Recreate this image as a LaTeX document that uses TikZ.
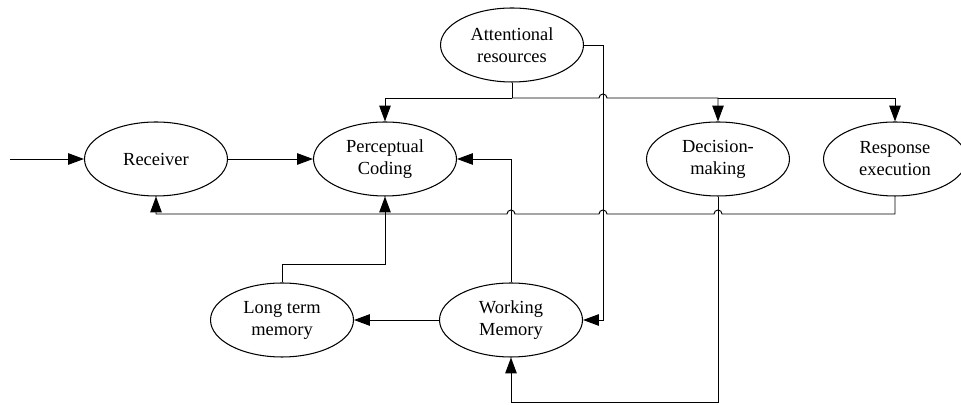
\documentclass[tikz,border=0pt]{standalone}
\usepackage{fontspec}
\setmainfont{Liberation Serif}
\usetikzlibrary{arrows.meta,shapes.geometric}
\tikzset{
  stage/.style={draw, ellipse, line width=0.6pt, minimum width=2.86cm, minimum height=1.48cm, inner sep=0pt, align=center, font=\fontsize{10.5}{12.5}\selectfont},
  arr/.style={line width=0.55pt, -{Triangle[length=9pt, width=6.5pt]}},
  wire/.style={line width=0.55pt}
}
\begin{document}
\begin{tikzpicture}[x=0.02cm, y=0.02cm]
		\useasboundingbox (0,0) rectangle (961,405);
		
		% Stages
		\node[stage] (att) at (512,360) {Attentional\\resources};
		\node[stage] (rec) at (156,246) {Receiver};
		\node[stage] (pc) at (385,246) {Perceptual\\Coding};
		\node[stage] (dm) at (718,246) {Decision-\\making};
		\node[stage] (re) at (895,246) {Response\\execution};
		\node[stage] (ltm) at (282,85) {Long term\\memory};
		\node[stage] (wm) at (511,85) {Working\\Memory};
		\coordinate (in) at (10,246);
		\coordinate (bus) at (512,307);
		
		% Main flow
		\draw[arr] (in) -- (rec);
		\draw[arr] (rec) -- (pc);
		\draw[arr] (wm) -- (ltm);
		
		% Attention
		\draw[wire] (att.south) -- (bus);
		\draw[arr] (bus) -| (pc.north);
		\draw[arr] (bus) -- (599,307) arc[start angle=180, end angle=0, radius=0.08cm] -| (dm.north);
		\draw[arr] (dm.north |- bus) -| (re.north);
		\draw[arr] (att.east) -| (603,85) -- (wm.east);
		
		% Memory
		\draw[arr] (ltm.north) -- ++(0,18) -| (pc.south);
		\draw[arr] (wm.north) |- (pc.east);
		\draw[arr] (dm.south) -- (718,3) -| (wm.south);
		
		% Feedback
		\draw[arr] (re.south) |- (722,191) arc[start angle=0, end angle=180, radius=0.08cm]
			-- (607,191) arc[start angle=0, end angle=180, radius=0.08cm]
			-- (515,191) arc[start angle=0, end angle=180, radius=0.08cm]
			-| (rec.south);
	\end{tikzpicture}
\end{document}
